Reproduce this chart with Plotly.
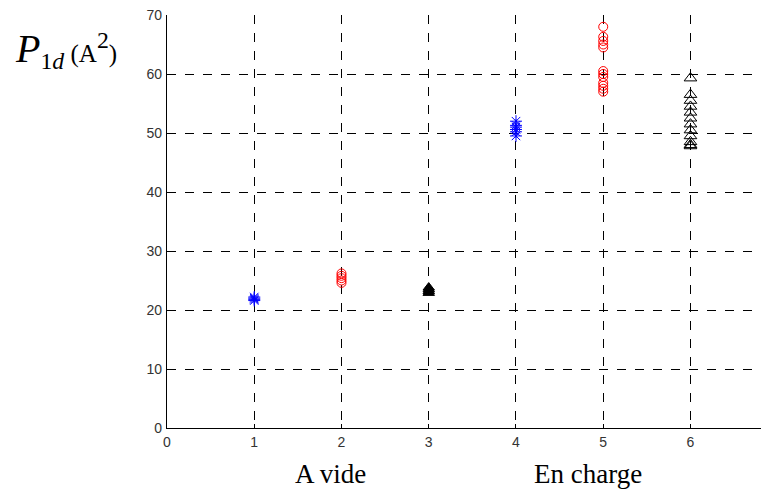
import plotly.graph_objects as go

# Data
x1_vals = [21.6, 21.8, 22.0, 22.2]
x2_vals = [24.6, 25.0, 25.4, 25.8, 26.2]
x3_vals = [22.9, 23.2, 23.5, 23.8]
x4_vals = [49.5, 50.2, 50.6, 51.0, 51.3, 52.0]
x5_vals = [57.0, 57.5, 58.0, 58.5, 59.5, 60.0, 60.5, 64.5, 65.0, 65.6, 66.3, 68.0]
x6_vals = [47.8, 48.0, 48.5, 49.5, 50.5, 51.5, 52.5, 53.5, 54.5, 55.5, 56.5, 59.3]
x_ticks = [0, 1, 2, 3, 4, 5, 6]
y_ticks = [0, 10, 20, 30, 40, 50, 60, 70]

fig = go.Figure()

def add(xpos, vals, symbol, color, size):
    fig.add_trace(go.Scatter(
        x=[xpos] * len(vals), y=vals, mode="markers",
        marker=dict(symbol=symbol, color=color, size=size,
                    line=dict(color=color, width=1)),
        showlegend=False))

add(1, x1_vals, "asterisk-open", "blue", 10)
add(2, x2_vals, "circle-open", "red", 9)
add(3, x3_vals, "triangle-up", "black", 10)
add(4, x4_vals, "asterisk-open", "blue", 10)
add(5, x5_vals, "circle-open", "red", 9)
add(6, x6_vals, "triangle-up-open", "black", 11)

axis_common = dict(
    showgrid=True, gridcolor="black", griddash="dash", gridwidth=1,
    showline=True, linecolor="black", linewidth=1.3,
    ticks="inside", ticklen=4, tickcolor="black",
    tickfont=dict(family="Liberation Sans, Arial", size=14, color="#333"),
    zeroline=False, mirror=False, ticklabeloverflow="allow",
)

fig.update_xaxes(range=[0, 6.9], tickvals=x_ticks, ticklabelstandoff=1, **axis_common)
fig.update_yaxes(range=[0, 70], tickvals=y_ticks, ticklabelstandoff=1, **axis_common)

fig.update_layout(
    width=761, height=482,
    margin=dict(l=159, r=0, t=7, b=62),
    plot_bgcolor="white", paper_bgcolor="white",
    font=dict(family="Liberation Serif, Times New Roman", color="black"),
)

label = ("<span style='font-size:40px'><i>P</i></span>"
         "<span style='font-size:34px'><sub>1<i>d</i></sub></span>"
         " (A<span style='font-size:34px'><sup>2</sup></span>)")
fig.add_annotation(
    xref="paper", yref="paper", x=-0.168, y=0.915, xanchor="center", yanchor="middle",
    text=label, showarrow=False,
    font=dict(family="Liberation Serif, Times New Roman", size=25, color="black"))

fig.add_annotation(
    xref="x", yref="paper", x=1.87, y=-0.111, xanchor="center", yanchor="middle",
    text="A vide", showarrow=False,
    font=dict(family="Liberation Serif, Times New Roman", size=27, color="black"))

fig.add_annotation(
    xref="x", yref="paper", x=4.83, y=-0.111, xanchor="center", yanchor="middle",
    text="En charge", showarrow=False,
    font=dict(family="Liberation Serif, Times New Roman", size=27, color="black"))

fig.write_html("out.html")
